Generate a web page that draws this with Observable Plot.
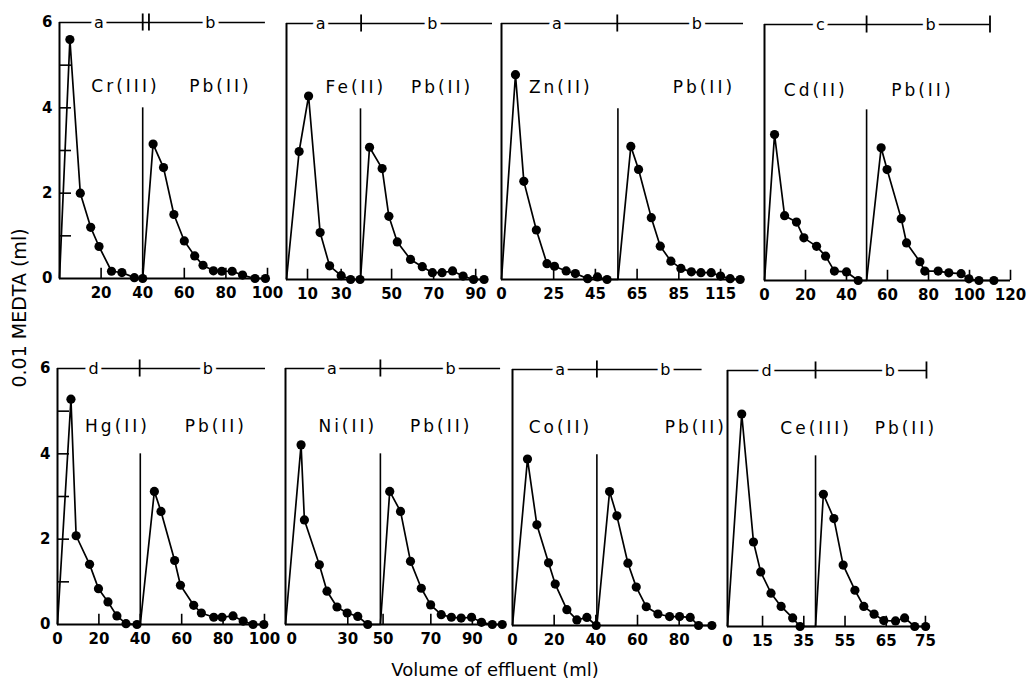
<!DOCTYPE html>
<html><head><meta charset="utf-8">
<script src="https://cdn.jsdelivr.net/npm/d3@7"></script>
<script src="https://cdn.jsdelivr.net/npm/@observablehq/plot@0.6"></script>
<style>
body{margin:0;background:#fff;overflow:hidden}
#chart{position:relative;width:1031px;height:682px;overflow:hidden;font-family:"DejaVu Sans",sans-serif;color:#000}
.panel{position:absolute}
.panel svg{max-width:none!important}
#ylab{position:absolute;left:19px;top:308px;transform:translate(-50%,-50%) rotate(-90deg);font-size:19px;white-space:nowrap}
#xlab{position:absolute;left:495px;top:659px;transform:translateX(-50%);font-size:18px;white-space:nowrap}
</style></head><body>
<div id="chart"><div id="ylab">0.01 MEDTA (ml)</div><div id="xlab">Volume of effluent (ml)</div></div>
<script>
// ---- data: volume of effluent (ml) and 0.01 M EDTA titre (ml) ----
const volCr = [5, 10, 15, 19, 25, 30, 36, 40];
const edtaCr = [5.6, 2.0, 1.2, 0.75, 0.17, 0.14, 0.02, 0];
const volPbCr = [45, 50, 55, 60, 65, 69, 74, 78, 83, 88, 94, 99];
const edtaPbCr = [3.15, 2.6, 1.5, 0.88, 0.53, 0.31, 0.18, 0.17, 0.17, 0.08, 0, 0];

const volFe = [6, 10.5, 16, 20.5, 26, 30.5, 35];
const edtaFe = [3.0, 4.3, 1.1, 0.32, 0.09, 0, 0];
const volPbFe = [39.5, 45.5, 48.7, 52.7, 59, 64.6, 69.4, 74, 79, 84, 89, 94];
const edtaPbFe = [3.1, 2.6, 1.48, 0.88, 0.47, 0.3, 0.16, 0.16, 0.2, 0.08, 0, 0];

const volZn = [6.7, 10.7, 16.7, 21.8, 25.4, 31, 35.4, 41.3, 46, 50.6];
const edtaZn = [4.8, 2.3, 1.16, 0.37, 0.31, 0.2, 0.14, 0.02, 0.06, 0];
const volPbZn = [62, 65.7, 71.8, 76.1, 81.2, 86, 91, 95.6, 100.5, 105, 109.6, 114.4];
const edtaPbZn = [3.12, 2.58, 1.45, 0.78, 0.43, 0.26, 0.18, 0.16, 0.16, 0.08, 0.02, 0];

const volCd = [4.9, 9.8, 15.6, 19.2, 25.4, 29.8, 34.1, 40, 45.7];
const edtaCd = [3.42, 1.52, 1.37, 1.0, 0.8, 0.57, 0.22, 0.2, 0];
const volPbCd = [56.9, 59.8, 66.7, 69.3, 75.8, 78.2, 84.7, 89.9, 95.9, 99.7, 104.6, 111.9];
const edtaPbCd = [3.11, 2.6, 1.45, 0.88, 0.44, 0.22, 0.22, 0.18, 0.16, 0.04, 0, 0];

const volHg = [6.5, 9, 15.5, 19.8, 24.4, 28.7, 33.1, 38.4];
const edtaHg = [5.28, 2.08, 1.41, 0.84, 0.53, 0.2, 0.02, 0];
const volPbHg = [46.8, 50, 56.6, 59.4, 65.8, 69.5, 75.5, 79.5, 84.8, 89.7, 94.5, 99.7];
const edtaPbHg = [3.12, 2.65, 1.5, 0.92, 0.45, 0.27, 0.17, 0.17, 0.2, 0.08, 0, 0];

const volNi = [7.5, 9.1, 16.3, 20, 24.8, 29.7, 34.8, 39.6];
const edtaNi = [4.21, 2.45, 1.4, 0.78, 0.41, 0.27, 0.19, 0];
const volPbNi = [50.2, 55.4, 60.2, 65.4, 69.9, 75, 79.9, 84.6, 89.6, 94.4, 99.6, 104.4];
const edtaPbNi = [3.12, 2.65, 1.48, 0.85, 0.46, 0.23, 0.17, 0.15, 0.17, 0.05, 0, 0];

const volCo = [7.2, 11.7, 17.3, 20.5, 26.1, 30.9, 35.7, 40.2];
const edtaCo = [3.9, 2.36, 1.47, 0.97, 0.37, 0.13, 0.19, 0];
const volPbCo = [46.6, 50.1, 55.4, 59.4, 64.2, 69.8, 75.4, 80.2, 85.3, 89.3, 95.7];
const edtaPbCo = [3.14, 2.57, 1.46, 0.9, 0.44, 0.27, 0.21, 0.21, 0.19, 0, 0];

const volCe = [6.9, 12.6, 16.1, 21.1, 26, 31.6, 35.2];
const edtaCe = [4.98, 1.98, 1.28, 0.78, 0.47, 0.2, 0];
const volPbCe = [46.5, 51.6, 56.1, 61.8, 66.1, 71.1, 75.8, 81.5, 85.9, 90.8, 96.1];
const edtaPbCe = [3.1, 2.53, 1.44, 0.85, 0.47, 0.29, 0.14, 0.13, 0.2, 0, 0];

// ---- tick values and tick labels as printed ----
const ticksCr = [20, 40, 60, 80, 100], labelsCr = ["20", "40", "60", "80", "100"];
const ticksFe = [10, 26, 50, 70, 90], labelsFe = ["10", "30", "50", "70", "90"];
const ticksZn = [0, 25, 45, 65, 85, 105], labelsZn = ["0", "25", "45", "65", "85", "115"];
const ticksCd = [0, 20, 40, 60, 80, 100, 120], labelsCd = ["0", "20", "40", "60", "80", "100", "120"];
const ticksHg = [0, 20, 40, 60, 80, 100], labelsHg = ["0", "20", "40", "60", "80", "100"];
const ticksNi = [3, 30, 47, 70, 90], labelsNi = ["0", "30", "50", "70", "90"];
const ticksCo = [0, 20, 40, 60, 80], labelsCo = ["0", "20", "40", "60", "80"];
const ticksCe = [0, 17, 37, 57, 77, 96], labelsCe = ["0", "15", "35", "55", "65", "75"];
const yTickValues = [0, 2, 4, 6];

const metalNames = ["Cr(III)", "Fe(II)", "Zn(II)", "Cd(II)", "Hg(II)", "Ni(II)", "Co(II)", "Ce(III)"];
const leadName = "Pb(II)";
const eluentLetters = [["a", "b"], ["a", "b"], ["a", "b"], ["c", "b"], ["d", "b"], ["a", "b"], ["a", "b"], ["d", "b"]];

// ---- layout of each panel ----
const panels = [
  {mx: volCr, my: edtaCr, px: volPbCr, py: edtaPbCr, ticks: ticksCr, labels: labelsCr,
   x0: 59, yTop: 22, k: 2.083, xmax: 100, axisEnd: 100, topEnd: 99, seps: [40, 43], divider: 40, yAxis: true,
   segX: [19, 72.5], annX: [31.7, 77.4], annY: 4.5},
  {mx: volFe, my: edtaFe, px: volPbFe, py: edtaPbFe, ticks: ticksFe, labels: labelsFe,
   x0: 286, yTop: 23, k: 2.1, xmax: 98, axisEnd: 96, topEnd: 98, seps: [35.5], divider: 35.2,
   segX: [16.2, 69.4], annX: [33, 74], annY: 4.5},
  {mx: volZn, my: edtaZn, px: volPbZn, py: edtaPbZn, ticks: ticksZn, labels: labelsZn,
   x0: 501, yTop: 23, k: 2.09, xmax: 116, axisEnd: 116, topEnd: 116, seps: [55.5], divider: 55.8,
   segX: [26.6, 93.6], annX: [28.4, 97], annY: 4.5},
  {mx: volCd, my: edtaCd, px: volPbCd, py: edtaPbCd, ticks: ticksCd, labels: labelsCd,
   x0: 764, yTop: 24, k: 2.05, xmax: 120, axisEnd: 120, topEnd: 110, seps: [49.8, 110], divider: 49.8,
   segX: [27.3, 81], annX: [25, 77], annY: 4.45},
  {mx: volHg, my: edtaHg, px: volPbHg, py: edtaPbHg, ticks: ticksHg, labels: labelsHg,
   x0: 57, yTop: 368, k: 2.067, xmax: 100.5, axisEnd: 100, topEnd: 100.5, seps: [39.7], divider: 40, yAxis: true,
   segX: [17.4, 72.6], annX: [29, 76.5], annY: 4.65},
  {mx: volNi, my: edtaNi, px: volPbNi, py: edtaPbNi, ticks: ticksNi, labels: labelsNi,
   x0: 285, yTop: 368, k: 2.073, xmax: 105, axisEnd: 105, topEnd: 103.6, seps: [45.7], divider: 45.7,
   segX: [22.4, 79.5], annX: [30, 75], annY: 4.65},
  {mx: volCo, my: edtaCo, px: volPbCo, py: edtaPbCo, ticks: ticksCo, labels: labelsCo,
   x0: 512, yTop: 369, k: 2.083, xmax: 96, axisEnd: 96, topEnd: 91, seps: [40.5], divider: 40.5,
   segX: [22.9, 73.3], annX: [23, 88], annY: 4.65},
  {mx: volCe, my: edtaCe, px: volPbCe, py: edtaPbCe, ticks: ticksCe, labels: labelsCe,
   x0: 727, yTop: 370, k: 2.067, xmax: 97, axisEnd: 97, topEnd: 96.5, seps: [42.7, 96.5], divider: 42.7,
   segX: [19, 78.7], annX: [43, 86.5], annY: 4.65}
];

const chart = document.getElementById("chart");
const mL = 40, mR = 20, mT = 30, mB = 40, H = 256;

panels.forEach((p, idx) => {
  const width = Math.round(mL + mR + p.xmax * p.k);
  const height = mT + H + mB;
  const metal = p.mx.map((x, i) => ({x, y: p.my[i]}));
  const lead = p.px.map((x, i) => ({x, y: p.py[i]}));
  const path = [{x: 0, y: 0}, ...metal, {x: p.divider, y: 0}, ...lead];
  const segs = p.segX.map((x, i) => ({x, t: eluentLetters[idx][i]}));
  const annots = [{x: p.annX[0], t: metalNames[idx]}, {x: p.annX[1], t: leadName}];
  const tickRows = p.ticks.map((x, i) => ({x, t: p.labels[i]}));
  const marks = [
    Plot.ruleX([0], {y1: 0, y2: 6, strokeWidth: 2}),
    Plot.ruleY([0], {x1: 0, x2: p.axisEnd, strokeWidth: 2}),
    Plot.ruleY([6], {x1: 0, x2: p.topEnd, strokeWidth: 1.6}),
    Plot.ruleX(p.seps, {y1: 5.8, y2: 6.2, strokeWidth: 1.8}),
    Plot.ruleX([p.divider], {y1: 0, y2: 4, strokeWidth: 1.6}),
    Plot.ruleX(p.ticks.filter(t => t > 3), {y1: 0, y2: 0.24, strokeWidth: 1.6}),
    Plot.text(tickRows, {x: "x", y: () => 0, text: "t", dy: 15, fill: "black", fontSize: 15,
      fontWeight: "bold"}),
    Plot.text(segs, {x: "x", y: () => 6, text: "t", fill: "black", stroke: "white", strokeWidth: 8,
      paintOrder: "stroke", fontSize: 16, fontWeight: "normal"}),
    Plot.line(path, {x: "x", y: "y", stroke: "black", strokeWidth: 1.7}),
    Plot.dot([...metal, ...lead], {x: "x", y: "y", r: 4.6, fill: "black", stroke: "none"}),
    Plot.text(annots, {x: "x", y: () => p.annY, text: "t", fill: "black", fontSize: 17,
      fontWeight: "normal"})
  ];
  if (p.yAxis) marks.push(Plot.ruleY([1, 2, 3, 4, 5], {x1: 0, x2: 12 / p.k, strokeWidth: 1.6}));
  const svg = Plot.plot({
    width, height,
    marginLeft: mL, marginRight: mR, marginTop: mT, marginBottom: mB,
    style: {fontFamily: "DejaVu Sans, sans-serif", fontSize: "15px", fontWeight: "bold",
            background: "transparent", overflow: "visible", color: "black"},
    x: {domain: [0, p.xmax], axis: null, label: null},
    y: {domain: [0, 6], axis: p.yAxis ? "left" : null, ticks: yTickValues, tickFormat: d => String(d),
        tickSize: 0, tickPadding: 7, label: null},
    marks
  });
  d3.select(svg).selectAll("text")
    .filter(function () { return metalNames.includes(this.textContent) || this.textContent === leadName; })
    .style("letter-spacing", "3px");
  const div = document.createElement("div");
  div.className = "panel";
  div.style.left = (p.x0 - mL) + "px";
  div.style.top = (p.yTop - mT) + "px";
  div.style.width = width + "px";
  div.appendChild(svg);
  chart.appendChild(div);
});
</script>
</body></html>
